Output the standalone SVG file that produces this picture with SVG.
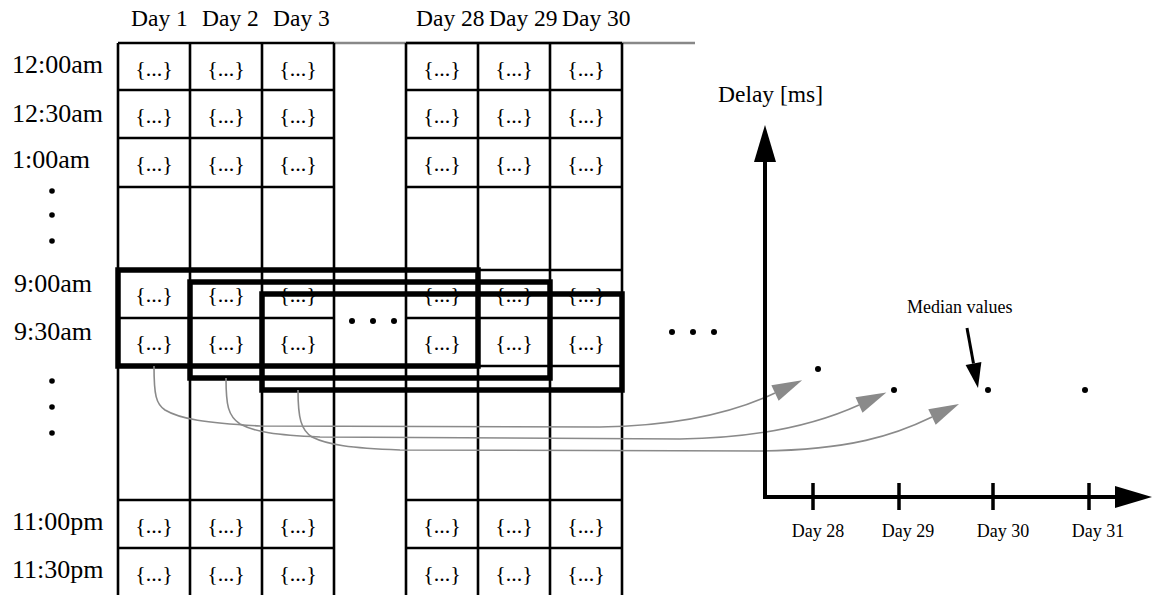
<svg xmlns="http://www.w3.org/2000/svg" width="1152" height="595" viewBox="0 0 1152 595">
<style>
text{font-family:"Liberation Serif","Times New Roman",serif;fill:#000}
.cell{font-size:22px;text-anchor:middle}
.rl{font-size:26px}
.cl{font-size:23.5px}
.tk{font-size:18px;text-anchor:middle}
.g{stroke:#000;stroke-width:2.6;fill:none}
.win{stroke:#000;stroke-width:5.5;fill:none}
.cur{stroke:#8a8a8a;stroke-width:1.6;fill:none;marker-end:url(#ga)}
.ax{stroke:#000;stroke-width:4;fill:none}
</style>
<defs>
<marker id="ga" markerUnits="userSpaceOnUse" markerWidth="30" markerHeight="18" refX="0" refY="8.5" orient="auto" overflow="visible"><path d="M0,0 L30,8.5 L0,17 z" fill="#8a8a8a"/></marker>
<marker id="ba" markerUnits="userSpaceOnUse" markerWidth="37" markerHeight="22" refX="0" refY="11" orient="auto" overflow="visible"><path d="M0,0 L37,11 L0,22 z" fill="#000"/></marker>
<marker id="bm" markerUnits="userSpaceOnUse" markerWidth="25" markerHeight="16" refX="0" refY="8" orient="auto" overflow="visible"><path d="M0,0 L25,8 L0,16 z" fill="#000"/></marker>
</defs>
<rect width="1152" height="595" fill="#fff"/>

<g id="col-labels">
<text class="cl" x="131" y="26">Day 1</text>
<text class="cl" x="202" y="26">Day 2</text>
<text class="cl" x="273" y="26">Day 3</text>
<text class="cl" x="416" y="26">Day 28</text>
<text class="cl" x="489" y="26">Day 29</text>
<text class="cl" x="562" y="26">Day 30</text>
</g>

<g id="row-labels">
<text class="rl" x="12" y="73">12:00am</text>
<text class="rl" x="12" y="122">12:30am</text>
<text class="rl" x="12" y="168">1:00am</text>
<circle cx="52" cy="191" r="2.8"/><circle cx="52" cy="215" r="2.8"/><circle cx="52" cy="241" r="2.8"/>
<text class="rl" x="14" y="292">9:00am</text>
<text class="rl" x="14" y="340">9:30am</text>
<circle cx="52" cy="381" r="2.8"/><circle cx="52" cy="407" r="2.8"/><circle cx="52" cy="433" r="2.8"/>
<text class="rl" x="12" y="530">11:00pm</text>
<text class="rl" x="12" y="578">11:30pm</text>
</g>

<g id="grid">
<line x1="334" y1="43" x2="695" y2="43" stroke="#888" stroke-width="2.6"/>
<path class="g" d="M118,43V595M190,43V595M262,43V595M334,43V595M406,43V595M478,43V595M550,43V595M622,43V595"/>
<path class="g" d="M118,43H334M406,43H622M118,90H334M406,90H622M118,138H334M406,138H622M118,187H334M406,187H622M118,270H334M406,270H622M118,318H334M406,318H622M118,366H334M406,366H622M118,500H334M406,500H622M118,548H334M406,548H622"/>
<g class="cells">
<text class="cell" x="154" y="76">{...}</text><text class="cell" x="226" y="76">{...}</text><text class="cell" x="298" y="76">{...}</text>
<text class="cell" x="442" y="76">{...}</text><text class="cell" x="514" y="76">{...}</text><text class="cell" x="586" y="76">{...}</text>
<text class="cell" x="154" y="123">{...}</text><text class="cell" x="226" y="123">{...}</text><text class="cell" x="298" y="123">{...}</text>
<text class="cell" x="442" y="123">{...}</text><text class="cell" x="514" y="123">{...}</text><text class="cell" x="586" y="123">{...}</text>
<text class="cell" x="154" y="171">{...}</text><text class="cell" x="226" y="171">{...}</text><text class="cell" x="298" y="171">{...}</text>
<text class="cell" x="442" y="171">{...}</text><text class="cell" x="514" y="171">{...}</text><text class="cell" x="586" y="171">{...}</text>
<text class="cell" x="154" y="302">{...}</text><text class="cell" x="226" y="302">{...}</text><text class="cell" x="298" y="302">{...}</text>
<text class="cell" x="442" y="302">{...}</text><text class="cell" x="514" y="302">{...}</text><text class="cell" x="586" y="302">{...}</text>
<text class="cell" x="154" y="350">{...}</text><text class="cell" x="226" y="350">{...}</text><text class="cell" x="298" y="350">{...}</text>
<text class="cell" x="442" y="350">{...}</text><text class="cell" x="514" y="350">{...}</text><text class="cell" x="586" y="350">{...}</text>
<text class="cell" x="154" y="533">{...}</text><text class="cell" x="226" y="533">{...}</text><text class="cell" x="298" y="533">{...}</text>
<text class="cell" x="442" y="533">{...}</text><text class="cell" x="514" y="533">{...}</text><text class="cell" x="586" y="533">{...}</text>
<text class="cell" x="154" y="581">{...}</text><text class="cell" x="226" y="581">{...}</text><text class="cell" x="298" y="581">{...}</text>
<text class="cell" x="442" y="581">{...}</text><text class="cell" x="514" y="581">{...}</text><text class="cell" x="586" y="581">{...}</text>
</g>
<circle cx="352" cy="321" r="3"/><circle cx="373" cy="321" r="3"/><circle cx="394" cy="321" r="3"/>
<circle cx="672" cy="332" r="3"/><circle cx="693" cy="332" r="3"/><circle cx="714" cy="332" r="3"/>
</g>

<g id="windows">
<rect id="win1" class="win" x="118" y="270" width="360" height="96"/>
<rect id="win2" class="win" x="190" y="282" width="360" height="96"/>
<rect id="win3" class="win" x="262" y="294" width="360" height="96"/>
</g>

<g id="connectors">
<path class="cur" d="M154,366 C154,395 156,404 165,410 C180,419 205,423 260,426 L600,427 C680,426 735,412 775,393"/>
<path class="cur" d="M226,378 C226,405 228,416 240,424 C255,432 275,435 320,437 L680,439 C760,438 815,425 859,405"/>
<path class="cur" d="M298,390 C298,418 301,430 312,437 C328,445 350,448 400,450 L760,451 C850,450 895,435 932,417"/>
</g>

<g id="chart">
<path class="ax" d="M765,163 V497 H1115" stroke-linejoin="miter"/>
<line x1="765" y1="165" x2="765" y2="162" stroke="#000" stroke-width="4" marker-end="url(#ba)"/>
<line x1="1112" y1="497" x2="1115" y2="497" stroke="#000" stroke-width="4" marker-end="url(#ba)"/>
<path d="M813,483V510M899,483V510M993,483V510M1089,483V510" stroke="#000" stroke-width="3.5"/>
<text x="718" y="102" style="font-size:23.5px">Delay [ms]</text>
<text class="tk" x="818" y="537">Day 28</text>
<text class="tk" x="908" y="537">Day 29</text>
<text class="tk" x="1003" y="537">Day 30</text>
<text class="tk" x="1098" y="537">Day 31</text>
<circle cx="818" cy="369" r="3"/><circle cx="894" cy="390" r="3"/><circle cx="988" cy="390" r="3"/><circle cx="1085" cy="390" r="3"/>
<text x="907" y="313" style="font-size:18px">Median values</text>
<line x1="967" y1="328" x2="973.5" y2="363.5" stroke="#000" stroke-width="3" marker-end="url(#bm)"/>
</g>
</svg>
